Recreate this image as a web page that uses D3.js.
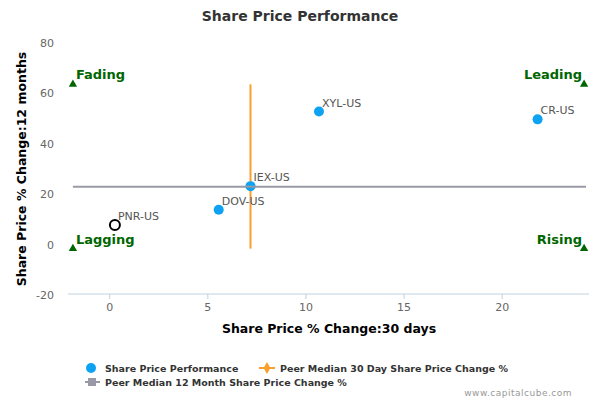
<!DOCTYPE html>
<html>
<head>
<meta charset="utf-8">
<script src="https://cdn.jsdelivr.net/npm/d3@7"></script>
<style>
body { margin: 0; background: #fff; }
text { font-family: "DejaVu Sans", sans-serif; }
</style>
</head>
<body>
<script>
// data
var names = ["IEX-US", "DOV-US", "PNR-US", "XYL-US", "CR-US"];
var day30 = [7.2, 5.58, 0.29, 10.69, 21.83];
var month12 = [23.2, 13.8, 7.8, 52.8, 49.7];
var hollow = [false, false, true, false, false];

var peer30 = 7.2;
var peer12 = 23;
var xTicks = [0, 5, 10, 15, 20];
var yTicks = [-20, 0, 20, 40, 60, 80];

var quadNames = ["Fading", "Leading", "Lagging", "Rising"];
var quadX = [-1.85, 24.2, -1.85, 24.2];
var quadY = [63.6, 63.6, -1.6, -1.6];

var W = 600, H = 400;
var pLeft = 68, pRight = 589, pTop = 43, pBottom = 295;

var svg = d3.select("body").append("svg")
    .attr("width", W).attr("height", H);

var x = d3.scaleLinear().domain([-2.1, 24.45]).range([pLeft, pRight]);
var y = d3.scaleLinear().domain([-20, 80]).range([pBottom, pTop]);

// title
svg.append("text")
    .attr("x", 300).attr("y", 21)
    .attr("text-anchor", "middle")
    .attr("font-size", 14).attr("font-weight", "bold")
    .attr("fill", "#333")
    .text("Share Price Performance");

// x axis
var xAxis = svg.append("g")
    .attr("transform", "translate(0," + (pBottom - 1) + ")")
    .call(d3.axisBottom(x).tickValues(xTicks).tickFormat(String).tickSize(5).tickPadding(4));
xAxis.select(".domain").attr("stroke", "#C0D0E0").attr("d", "M" + pLeft + ",0H" + pRight);
xAxis.selectAll(".tick line").attr("stroke", "#C0D0E0");
xAxis.selectAll(".tick text").attr("fill", "#666").attr("font-size", 11)
    .style("font-family", "DejaVu Sans");

// y axis (labels only)
var yAxis = svg.append("g")
    .attr("transform", "translate(" + (pLeft - 14) + ",0)")
    .call(d3.axisLeft(y).tickValues(yTicks).tickFormat(String).tickSize(0).tickPadding(0));
yAxis.select(".domain").remove();
yAxis.selectAll(".tick text").attr("fill", "#666").attr("font-size", 11)
    .style("font-family", "DejaVu Sans");

// axis titles
svg.append("text")
    .attr("x", 329).attr("y", 333)
    .attr("text-anchor", "middle")
    .attr("font-size", 12.5).attr("font-weight", "bold")
    .attr("fill", "#000")
    .text("Share Price % Change:30 days");

svg.append("text")
    .attr("transform", "translate(26," + ((pTop + pBottom) / 2) + ") rotate(-90)")
    .attr("text-anchor", "middle")
    .attr("font-size", 12.5).attr("font-weight", "bold")
    .attr("fill", "#000")
    .text("Share Price % Change:12 months");

// peer median lines
svg.append("line")
    .attr("x1", x(quadX[0])).attr("x2", x(quadX[1]) + 2)
    .attr("y1", y(peer12)).attr("y2", y(peer12))
    .attr("stroke", "#999aa5").attr("stroke-width", 2);

svg.append("line")
    .attr("x1", x(peer30)).attr("x2", x(peer30))
    .attr("y1", y(quadY[0])).attr("y2", y(quadY[2]))
    .attr("stroke", "#F7A02C").attr("stroke-width", 2);

// quadrant markers
var tri = d3.symbol().type(d3.symbolTriangle).size(30);
svg.selectAll("path.quad")
    .data(quadNames)
    .enter().append("path")
    .attr("class", "quad")
    .attr("d", tri)
    .attr("transform", function(d, i) { return "translate(" + x(quadX[i]) + "," + y(quadY[i]) + ")"; })
    .attr("fill", "#006600");

svg.selectAll("text.quad")
    .data(quadNames)
    .enter().append("text")
    .attr("class", "quad")
    .attr("x", function(d, i) { return i % 2 == 0 ? x(quadX[i]) + 3 : x(quadX[i]) - 2; })
    .attr("y", function(d, i) { return y(quadY[i]) - 5; })
    .attr("text-anchor", function(d, i) { return i % 2 == 0 ? "start" : "end"; })
    .attr("font-size", 13).attr("font-weight", "bold")
    .attr("fill", "#006600")
    .text(function(d) { return d; });

// points
svg.selectAll("circle.pt")
    .data(names)
    .enter().append("circle")
    .attr("class", "pt")
    .attr("cx", function(d, i) { return x(day30[i]); })
    .attr("cy", function(d, i) { return y(month12[i]); })
    .attr("r", 5)
    .attr("fill", function(d, i) { return hollow[i] ? "#fff" : "#0DA2F2"; })
    .attr("stroke", function(d, i) { return hollow[i] ? "#000" : "none"; })
    .attr("stroke-width", 2);

// the peer cross over IEX
svg.append("line")
    .attr("x1", x(peer30) - 5).attr("x2", x(peer30) + 5)
    .attr("y1", y(peer12)).attr("y2", y(peer12))
    .attr("stroke", "#999aa5").attr("stroke-width", 2);

svg.selectAll("text.pt")
    .data(names)
    .enter().append("text")
    .attr("class", "pt")
    .attr("x", function(d, i) { return x(day30[i]) + 3; })
    .attr("y", function(d, i) { return y(month12[i]) - 5; })
    .attr("font-size", 11)
    .attr("fill", "#555")
    .text(function(d) { return d; });

// legend
var lg = svg.append("g");
lg.append("circle").attr("cx", 91).attr("cy", 368).attr("r", 5).attr("fill", "#0DA2F2");
lg.append("text").attr("x", 105).attr("y", 372).attr("font-size", 9.5).attr("font-weight", "bold")
    .attr("fill", "#333").text("Share Price Performance");

lg.append("line").attr("x1", 259).attr("x2", 275).attr("y1", 368).attr("y2", 368)
    .attr("stroke", "#F7A02C").attr("stroke-width", 2);
lg.append("path").attr("d", d3.symbol().type(d3.symbolDiamond).size(40))
    .attr("transform", "translate(267,368)").attr("fill", "#F7A02C");
lg.append("text").attr("x", 280).attr("y", 372).attr("font-size", 9.5).attr("font-weight", "bold")
    .attr("fill", "#333").text("Peer Median 30 Day Share Price Change %");

lg.append("line").attr("x1", 85).attr("x2", 100).attr("y1", 382).attr("y2", 382)
    .attr("stroke", "#999aa5").attr("stroke-width", 2);
lg.append("rect").attr("x", 88).attr("y", 378).attr("width", 8).attr("height", 8).attr("fill", "#999aa5");
lg.append("text").attr("x", 105).attr("y", 386).attr("font-size", 9.5).attr("font-weight", "bold")
    .attr("fill", "#333").text("Peer Median 12 Month Share Price Change %");

svg.append("text")
    .attr("x", 572).attr("y", 396)
    .attr("text-anchor", "end")
    .attr("font-size", 9)
    .attr("letter-spacing", 0.5)
    .attr("fill", "#999")
    .text("www.capitalcube.com");
</script>
</body>
</html>
